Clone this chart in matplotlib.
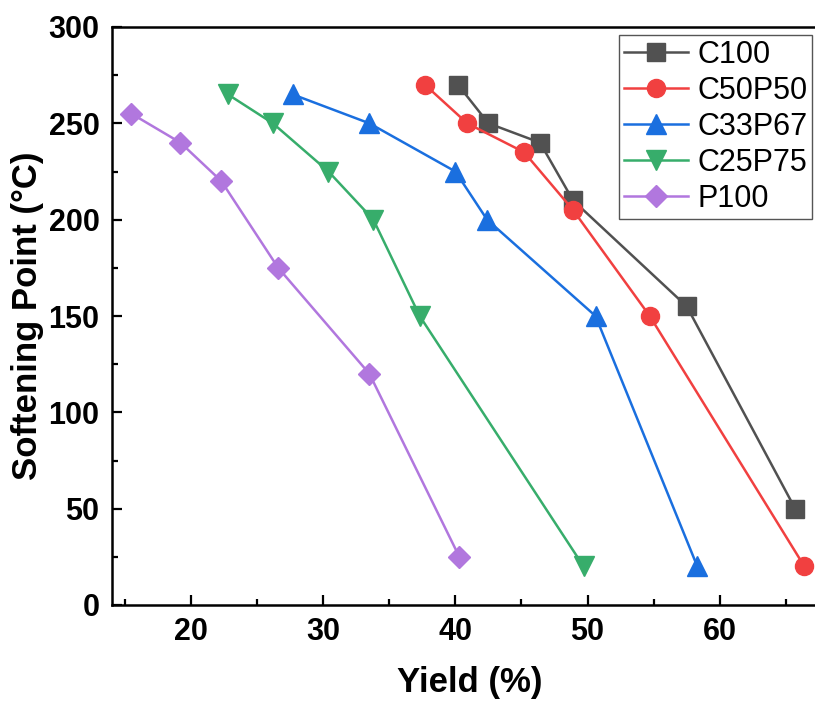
import matplotlib
matplotlib.use("Agg")
import matplotlib.pyplot as plt

plt.rcParams['font.family'] = ['Liberation Sans', 'DejaVu Sans']

# data
c100_x = [40.2, 42.5, 46.4, 48.9, 57.5, 65.7]
c100_y = [270, 250, 240, 210, 155, 50]
c50p50_x = [37.7, 40.9, 45.2, 48.9, 54.7, 66.4]
c50p50_y = [270, 250, 235, 205, 150, 20]
c33p67_x = [27.7, 33.5, 40.0, 42.4, 50.6, 58.3]
c33p67_y = [265, 250, 225, 200, 150, 20]
c25p75_x = [22.8, 26.2, 30.4, 33.8, 37.3, 49.7]
c25p75_y = [265, 250, 225, 200, 150, 20]
p100_x = [15.5, 19.2, 22.3, 26.6, 33.5, 40.3]
p100_y = [255, 240, 220, 175, 120, 25]

W, H = 815, 704
fig = plt.figure(figsize=(W / 100, H / 100), dpi=100)
# axes box in pixels: left 112, top 27, bottom 605, runs off right edge
ax = fig.add_axes([112 / W, 1 - 605 / H, (W - 112) / W, (605 - 27) / H])

ax.plot(c100_x, c100_y, '-s', color='#515151', lw=1.8, ms=13, label='C100')
ax.plot(c50p50_x, c50p50_y, '-o', color='#F14040', lw=1.8, ms=13, label='C50P50')
ax.plot(c33p67_x, c33p67_y, '-^', color='#1A6FDF', lw=1.8, ms=14, label='C33P67')
ax.plot(c25p75_x, c25p75_y, '-v', color='#37AD6B', lw=1.8, ms=14, label='C25P75')
ax.plot(p100_x, p100_y, '-D', color='#B177DE', lw=1.8, ms=11.5, label='P100')

ax.set_xlim(14.03, 67.2)
ax.set_ylim(0, 300)
ax.set_xticks([20, 30, 40, 50, 60])
ax.set_xticks([15, 25, 35, 45, 55, 65], minor=True)
ax.set_yticks([0, 50, 100, 150, 200, 250, 300])
ax.set_yticks([25, 75, 125, 175, 225, 275], minor=True)

for s in ['left', 'bottom', 'top']:
    ax.spines[s].set_linewidth(1.8)
ax.spines['right'].set_visible(False)
ax.tick_params(which='major', direction='in', length=7, width=1.6,
               labelsize=22, pad=9)
ax.tick_params(which='minor', direction='in', length=4.5, width=1.6)
for lab in ax.get_xticklabels() + ax.get_yticklabels():
    lab.set_fontweight('bold')

ax.set_xlabel('Yield (%)', fontsize=25, fontweight='bold')
ax.xaxis.set_label_coords(0.509, -0.105)
ax.set_ylabel('Softening Point (\u00b0C)', fontsize=25, fontweight='bold',
              labelpad=3)

leg = ax.legend(loc='upper right', bbox_to_anchor=(812 / W, 1 - 35 / H),
                bbox_transform=fig.transFigure, fontsize=22,
                fancybox=False, edgecolor='#555555', framealpha=1,
                handlelength=2.1, borderaxespad=0, borderpad=0.15,
                labelspacing=0.2, handletextpad=0.3)
leg.get_frame().set_linewidth(1)

fig.savefig('out.png', dpi=100)
